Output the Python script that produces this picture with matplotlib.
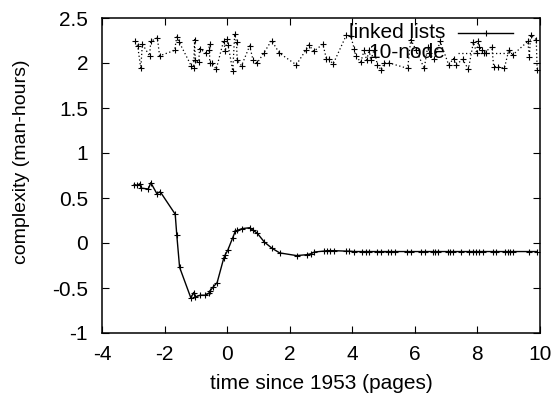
import numpy as np
import matplotlib
matplotlib.use('Agg')
import matplotlib.pyplot as plt

plt.rcParams['font.family'] = ['Liberation Sans', 'DejaVu Sans']
plt.rcParams['font.size'] = 15

# linked lists (solid)
x_ll = [-2.97, -2.87, -2.78, -2.75, -2.52, -2.44, -2.25, -2.14, -1.66, -1.61,
        -1.52, -1.16, -1.07, -1.02, -0.86, -0.70, -0.59, -0.54, -0.45, -0.32,
        -0.11, -0.06, 0.02, 0.18, 0.26, 0.32, 0.48, 0.72, 0.83, 0.96,
        1.19, 1.44, 1.68, 2.22, 2.54, 2.67, 2.79, 3.09, 3.20, 3.30,
        3.40, 3.79, 3.90, 4.06, 4.32, 4.43, 4.54, 4.80, 4.91, 5.15,
        5.25, 5.36, 5.74, 5.87, 6.19, 6.32, 6.57, 6.64, 6.73, 7.05,
        7.13, 7.21, 7.47, 7.74, 7.85, 7.96, 8.06, 8.17, 8.49, 8.60,
        8.88, 8.97, 9.05, 9.13, 9.66, 9.91]
y_ll = [0.65, 0.64, 0.66, 0.61, 0.60, 0.67, 0.55, 0.57, 0.32, 0.09,
        -0.27, -0.61, -0.55, -0.60, -0.58, -0.58, -0.56, -0.53, -0.49, -0.44,
        -0.17, -0.13, -0.08, 0.06, 0.13, 0.14, 0.16, 0.17, 0.14, 0.11,
        0.01, -0.06, -0.11, -0.14, -0.13, -0.12, -0.10, -0.09, -0.085, -0.085,
        -0.085, -0.09, -0.09, -0.095, -0.095, -0.095, -0.095, -0.095, -0.095, -0.095,
        -0.095, -0.095, -0.095, -0.095, -0.095, -0.095, -0.095, -0.095, -0.095, -0.095,
        -0.095, -0.095, -0.095, -0.095, -0.095, -0.095, -0.095, -0.095, -0.095, -0.095,
        -0.095, -0.095, -0.095, -0.095, -0.095, -0.095]

# 10-node (dotted)
x_10 = [-2.94, -2.86, -2.76, -2.71, -2.48, -2.44, -2.23, -2.16, -1.68, -1.61,
        -1.53, -1.15, -1.07, -1.04, -1.02, -0.91, -0.88, -0.68, -0.59, -0.56,
        -0.56, -0.48, -0.35, -0.11, -0.06, 0.00, 0.03, 0.18, 0.24, 0.30,
        0.32, 0.46, 0.72, 0.83, 0.96, 1.17, 1.42, 1.67, 2.21, 2.51,
        2.61, 2.77, 3.06, 3.17, 3.25, 3.39, 3.81, 3.95, 4.06, 4.11,
        4.27, 4.38, 4.46, 4.54, 4.59, 4.70, 4.80, 4.93, 5.02, 5.18,
        5.77, 5.87, 6.03, 6.30, 6.41, 6.46, 6.62, 6.81, 7.08, 7.24,
        7.31, 7.53, 7.71, 7.87, 7.98, 8.03, 8.06, 8.14, 8.20, 8.46,
        8.52, 8.65, 8.86, 9.00, 9.13, 9.61, 9.66, 9.70, 9.88, 9.91]
y_10 = [2.24, 2.19, 1.94, 2.21, 2.08, 2.24, 2.28, 2.08, 2.14, 2.29,
        2.23, 1.97, 1.95, 2.26, 2.03, 2.01, 2.16, 2.11, 2.14, 2.21,
        2.00, 2.00, 1.93, 2.25, 2.13, 2.27, 2.20, 1.91, 2.32, 2.23,
        2.03, 1.97, 2.19, 2.03, 2.00, 2.11, 2.25, 2.11, 1.98, 2.14,
        2.20, 2.13, 2.21, 2.05, 2.04, 1.99, 2.31, 2.30, 2.16, 2.08,
        2.01, 2.14, 2.03, 2.15, 2.03, 2.15, 1.98, 1.92, 2.00, 2.00,
        1.94, 2.26, 2.15, 1.94, 2.18, 2.11, 2.04, 2.24, 1.98, 2.05,
        1.98, 2.04, 1.93, 2.23, 2.11, 2.25, 2.18, 2.14, 2.11, 2.18,
        1.96, 1.96, 1.94, 2.14, 2.09, 2.24, 2.07, 2.31, 2.26, 1.92]

fig = plt.figure(figsize=(5.55, 3.94), dpi=100)
ax = fig.add_axes([102/555, 1 - 333/394, 438/555, 315/394])

ax.plot(x_ll, y_ll, '-', color='black', lw=1.0, marker='+', ms=5, mew=0.8)
ax.plot(x_10, y_10, color='black', lw=0.9, ls=(0, (1, 2)), marker='+', ms=5, mew=0.8)

ax.set_xlim(-4, 10)
ax.set_ylim(-1, 2.5)
ax.set_xticks(np.arange(-4, 11, 2))
ax.set_yticks(np.arange(-1, 2.6, 0.5))
ax.set_yticklabels(['-1', '-0.5', '0', '0.5', '1', '1.5', '2', '2.5'])
ax.set_xticklabels(['-4', '-2', '0', '2', '4', '6', '8', '10'])
ax.tick_params(direction='in', length=5, width=0.8, top=True, right=True)
ax.tick_params(axis='x', pad=9)
ax.tick_params(axis='y', pad=10)
for s in ax.spines.values():
    s.set_linewidth(1.1)

ax.set_xlabel('time since 1953 (pages)')
ax.set_ylabel('complexity (man-hours)', fontsize=14)
ax.xaxis.set_label_coords(0.5, -(374 - 333)/315)
ax.yaxis.set_label_coords(-(102 - 30)/438, 0.543)

# gnuplot style key, text right of centre, sample on the right
ax.text((445 - 102)/438, 1 - (33 - 18)/315, 'linked lists', transform=ax.transAxes,
        ha='right', va='center')
ax.text((445 - 102)/438, 1 - (53 - 18)/315, '10-node', transform=ax.transAxes,
        ha='right', va='center')
ax.plot([(458 - 102)/438, (513 - 102)/438], [1 - 15/315] * 2, '-', color='black',
        lw=1.0, transform=ax.transAxes)
ax.plot([(486 - 102)/438], [1 - 15/315], '+', color='black', ms=5, mew=0.8,
        transform=ax.transAxes)
ax.plot([(458 - 102)/438, (513 - 102)/438], [1 - 35/315] * 2, color='black',
        lw=0.9, ls=(0, (1, 2)), transform=ax.transAxes)
ax.plot([(486 - 102)/438], [1 - 35/315], '+', color='black', ms=5, mew=0.8,
        transform=ax.transAxes)

fig.savefig('out.png', dpi=100)
